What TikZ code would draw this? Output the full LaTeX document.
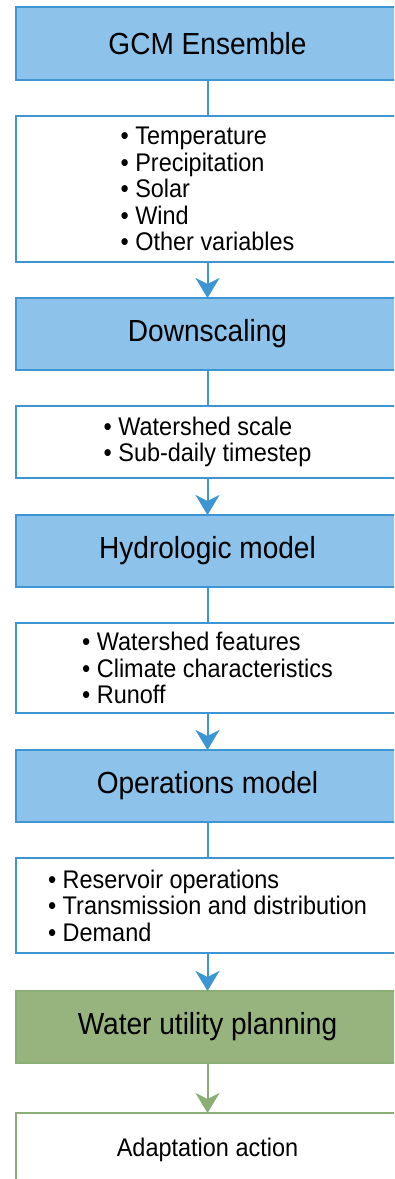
\documentclass[tikz,border=0pt]{standalone}
\usepackage{fontspec}
\setmainfont{Liberation Sans}[FakeStretch=0.92]
\usetikzlibrary{positioning, arrows.meta}

\definecolor{stageblue}{HTML}{8DC2EA}
\definecolor{edgeblue}{HTML}{3D96D3}
\definecolor{stagegreen}{HTML}{97B47F}
\definecolor{edgegreen}{HTML}{8AAE74}

\begin{document}
\begin{tikzpicture}[
  every node/.style={minimum width=383pt, inner sep=0pt, outer sep=0pt, line width=2pt},
  stage/.style={draw=edgeblue, fill=stageblue, minimum height=72pt, font=\fontsize{30.5}{32}\selectfont},
  items/.style={draw=edgeblue, fill=white, align=left, font=\fontsize{25.5}{26.4}\selectfont},
  final/.style={draw=edgegreen, fill=stagegreen, minimum height=72pt, font=\fontsize{30.5}{32}\selectfont},
  result/.style={draw=edgegreen, fill=white, minimum height=74pt, font=\fontsize{25.5}{26.4}\selectfont},
  link/.style={draw=edgeblue, line width=2pt},
  flow/.style={link, -{Stealth[length=20pt, width=24pt, inset=6pt]}},
  greenflow/.style={flow, draw=edgegreen}
]
\clip (0,0) rectangle (394pt,-1179pt);
\fill[white] (0,0) rectangle (394pt,-1179pt);

\node[stage, minimum height=73pt] (gcm) at (207.5pt,-43.5pt) {GCM Ensemble};
\node[items, minimum height=146pt, below=36pt of gcm] (vars)
  {• Temperature\\• Precipitation\\• Solar\\• Wind\\• Other variables};
\node[stage, below=36pt of vars] (down) {Downscaling};
\node[items, minimum height=72pt, below=36pt of down] (scale)
  {• Watershed scale\\• Sub-daily timestep};
\node[stage, below=37pt of scale] (hydro) {Hydrologic model};
\node[items, minimum height=90pt, below=36pt of hydro] (basin)
  {• Watershed features\\• Climate characteristics\\• Runoff};
\node[stage, below=37pt of basin] (ops) {Operations model};
\node[items, minimum height=95pt, below=36pt of ops] (system)
  {• Reservoir operations\\• Transmission and distribution\\• Demand};
\node[final, below=38pt of system] (plan) {Water utility planning};
\node[result, below=50pt of plan] (adapt) {Adaptation action};

% connectors
\draw[link] (gcm) -- (vars);
\draw[flow] (vars) -- (down);
\draw[link] (down) -- (scale);
\draw[flow] (scale) -- (hydro);
\draw[link] (hydro) -- (basin);
\draw[flow] (basin) -- (ops);
\draw[link] (ops) -- (system);
\draw[flow] (system) -- (plan);
\draw[greenflow] (plan) -- (adapt);
\end{tikzpicture}
\end{document}
